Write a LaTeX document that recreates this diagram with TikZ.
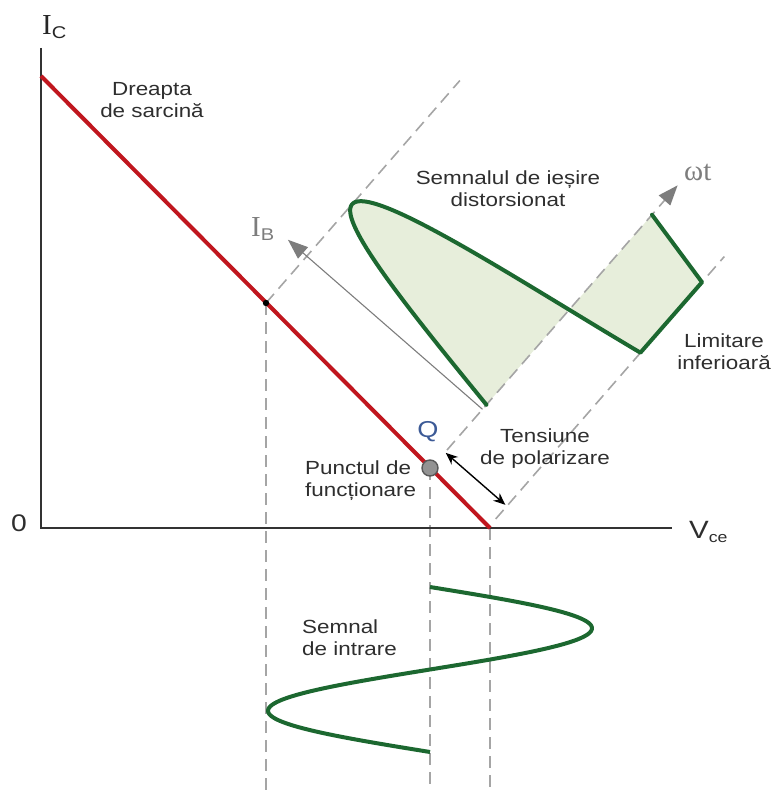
\documentclass[tikz,border=0pt]{standalone}
\usepackage{fontspec}
\setmainfont{Liberation Sans}
\newfontfamily\lblfont[FakeStretch=1.18]{Liberation Sans}
\newfontfamily\serfont{Liberation Serif}
\usetikzlibrary{arrows.meta}
\definecolor{loadred}{RGB}{192,22,30}
\definecolor{siggreen}{RGB}{28,104,48}
\definecolor{sigfill}{RGB}{231,238,219}
\definecolor{dashgray}{RGB}{165,165,165}
\definecolor{axisgray}{RGB}{50,50,50}
\definecolor{qblue}{RGB}{60,90,150}
\definecolor{txtgray}{RGB}{125,125,125}
\begin{document}
\begin{tikzpicture}[x=1pt,y=-1pt,
  lbl/.style={font=\lblfont\fontsize{19}{22}\selectfont, text=black!82, inner sep=0pt, align=center},
  guide/.style={draw=dashgray, line width=1.6pt, dash pattern=on 12pt off 7pt},
  axisline/.style={draw=axisgray, line width=2.6pt},
  loadline/.style={draw=loadred, line width=4pt},
  signal/.style={draw=siggreen, line width=4pt, line join=round, line cap=round},
  biasarrow/.style={{Stealth[length=12pt,width=10pt]}-{Stealth[length=12pt,width=10pt]}, draw=black, line width=1.4pt},
]
\useasboundingbox (0,0) rectangle (775,791);

% main frame coordinates
\coordinate (ytop) at (41,48);
\coordinate (orig) at (41,528);
\coordinate (xend) at (672,528);
\coordinate (ldtop) at (41,76);
\coordinate (ldbot) at (490,528);
\coordinate (ibpt) at (266,303);
\coordinate (qpt) at (430,468);
\coordinate (v1b) at (266,791);
\coordinate (v2b) at (430,791);
\coordinate (v3b) at (490,791);

% rotated frame of the output signal
\begin{scope}[shift={(447pt,-450pt)}, x={(0.657pt,0.754pt)}, y={(-0.754pt,0.657pt)}]
  \coordinate (Aa) at (-8,233);
  \coordinate (Ab) at (287,233);
  \coordinate (Ba) at (0,0);
  \coordinate (Bb) at (351,0);
  \coordinate (Ca) at (-20,-82);
  \coordinate (Cb) at (328,-82);
  \coordinate (bias1) at (-3,-1);
  \coordinate (bias2) at (-3,-80);
  \coordinate (ibA) at (54,0);
  \coordinate (ibB) at (54,258);
  \coordinate (sClipEnd) at (294,-82);
  \coordinate (sEnd) at (312,0);
  \fill[sigfill] plot[domain=60:200.4,samples=90] (\x,{233*sin(1.428571*(\x-60))}) -- (sClipEnd) -- (sEnd) -- cycle;
  \draw[guide] (Aa) -- (Ab);
  \draw[guide] (Ca) -- (Cb);
  \draw[guide, -{Triangle[length=20pt,width=15pt,color=txtgray]}] (Ba) -- (Bb);
  \draw[txtgray, line width=1.1pt, -{Triangle[length=20pt,width=15pt,color=txtgray]}] (ibA) -- (ibB);
  \draw[biasarrow] (bias1) -- (bias2);
  \draw[signal] plot[domain=60:200.4,samples=90] (\x,{233*sin(1.428571*(\x-60))}) -- (sClipEnd) -- (sEnd);
\end{scope}

% vertical guides
\draw[guide] (ibpt) -- (v1b);
\draw[guide] (qpt) -- (v2b);
\draw[guide] (ldbot) -- (v3b);

% input signal
\draw[signal, line cap=butt] plot[domain=0:165,samples=120] ({430+162*sin(2.181818*\x)},{587+\x});

% axes
\draw[axisline] (ytop) -- (orig) -- (xend);
% load line
\draw[loadline] (ldtop) -- (ldbot);

% points
\fill[black] (ibpt) circle (3.2);
\draw[fill=gray!85, draw=black!65, line width=1.4pt] (qpt) circle (8);

% labels
\node[anchor=base west, inner sep=0pt, text=black!85] (ic) at (42,35) {{\serfont\fontsize{29}{29}\selectfont I}\raisebox{-4pt}{\lblfont\fontsize{17}{17}\selectfont C}};
\node[anchor=base west, inner sep=0pt, text=txtgray] (ib) at (251,237) {{\serfont\fontsize{29}{29}\selectfont I}\raisebox{-3pt}{\lblfont\fontsize{17}{17}\selectfont B}};
\node[anchor=base west, inner sep=0pt, text=txtgray] (wt) at (684,181) {\serfont\fontsize{29}{29}\selectfont ωt};
\node[anchor=base west, inner sep=0pt, text=black!82] (vce) at (689,538) {{\lblfont\fontsize{25}{25}\selectfont V}\raisebox{-4pt}{\lblfont\fontsize{15}{15}\selectfont ce}};
\node[lbl, font=\lblfont\fontsize{24}{24}\selectfont] (zero) at (19,523) {0};
\node[lbl, text=qblue, font=\lblfont\fontsize{23}{23}\selectfont] (qlbl) at (428,432) {Q};
\node[lbl] (dreapta) at (152,100) {Dreapta\\de sarcină};
\node[lbl] (iesire) at (508,189) {Semnalul de ieșire\\distorsionat};
\node[lbl] (tens) at (545,449) {Tensiune\\de polarizare};
\node[lbl, align=left, anchor=west] (punct) at (305,481) {Punctul de\\funcționare};
\node[lbl] (limit) at (724,352) {Limitare\\inferioară};
\node[lbl, align=left, anchor=west] (intr) at (302,638) {Semnal\\de intrare};
\end{tikzpicture}
\end{document}
